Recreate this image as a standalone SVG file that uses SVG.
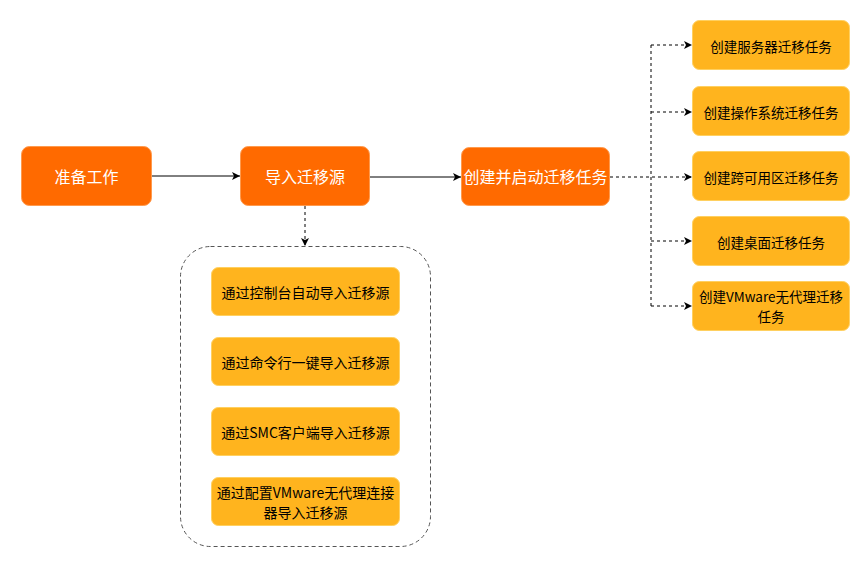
<svg xmlns="http://www.w3.org/2000/svg" width="864" height="578" viewBox="0 0 864 578">
<style>
.main{fill:#FF6A00;stroke:#FF9A4D;stroke-width:1}
.sub{fill:#FFB41E;stroke:#FFD060;stroke-width:1}
.tw{font-family:"Noto Sans CJK SC","Liberation Sans",sans-serif;font-size:16px;fill:#FFFFFF;text-anchor:middle;dominant-baseline:central}
.tb{font-family:"Noto Sans CJK SC","Liberation Sans",sans-serif;font-size:14px;fill:#000000;text-anchor:middle;dominant-baseline:central}
.tr{font-family:"Noto Sans CJK SC","Liberation Sans",sans-serif;font-size:13.5px;fill:#000000;text-anchor:middle;dominant-baseline:central}
.solid{fill:none;stroke:#000;stroke-width:1}
.dash{fill:none;stroke:#000;stroke-width:1;stroke-dasharray:3 3}
</style>
<defs>
<marker id="arr" viewBox="0 0 10 10" refX="10" refY="5" markerWidth="8" markerHeight="8" markerUnits="userSpaceOnUse" orient="auto">
<path d="M0,0 L10,5 L0,10 L2.5,5 Z" fill="#000"/>
</marker>
</defs>
<rect width="864" height="578" fill="#FFFFFF"/>
<g id="connectors">
<path class="solid" d="M152,176 L240,176" marker-end="url(#arr)"/>
<path class="solid" d="M370,177 L461,177" marker-end="url(#arr)"/>
<path class="dash" d="M305,206 L305,246" marker-end="url(#arr)"/>
<path class="dash" d="M610,177 L692,177" marker-end="url(#arr)"/>
<path class="dash" d="M651,45 L651,306"/>
<path class="dash" d="M651,45 L692,45" marker-end="url(#arr)"/>
<path class="dash" d="M651,112 L692,112" marker-end="url(#arr)"/>
<path class="dash" d="M651,241 L692,241" marker-end="url(#arr)"/>
<path class="dash" d="M651,306 L692,306" marker-end="url(#arr)"/>
</g>
<g id="container">
<rect x="180.5" y="246.5" width="250" height="300" rx="30" ry="30" fill="none" stroke="#555" stroke-width="1" stroke-dasharray="4 3"/>
</g>
<g id="n1"><rect class="main" x="21.5" y="146.5" width="130" height="59" rx="8"/><text class="tw" x="86.5" y="176">准备工作</text></g>
<g id="n2"><rect class="main" x="240.5" y="146.5" width="129" height="59" rx="8"/><text class="tw" x="305" y="176">导入迁移源</text></g>
<g id="n3"><rect class="main" x="461.5" y="147.5" width="148" height="58" rx="8"/><text class="tw" x="535.5" y="176">创建并启动迁移任务</text></g>
<g id="s1"><rect class="sub" x="211.5" y="267.5" width="188" height="48" rx="7"/><text class="tb" x="305.5" y="292">通过控制台自动导入迁移源</text></g>
<g id="s2"><rect class="sub" x="211.5" y="337.5" width="188" height="48" rx="7"/><text class="tb" x="305.5" y="362">通过命令行一键导入迁移源</text></g>
<g id="s3"><rect class="sub" x="211.5" y="407.5" width="188" height="48" rx="7"/><text class="tb" x="305.5" y="432">通过SMC客户端导入迁移源</text></g>
<g id="s4"><rect class="sub" x="211.5" y="477.5" width="188" height="48" rx="7"/><text class="tb" x="305.5" y="492">通过配置VMware无代理连接</text><text class="tb" x="305.5" y="512">器导入迁移源</text></g>
<g id="r1"><rect class="sub" x="692.5" y="20.5" width="157" height="49" rx="7"/><text class="tr" x="771" y="46">创建服务器迁移任务</text></g>
<g id="r2"><rect class="sub" x="692.5" y="86.5" width="157" height="49" rx="7"/><text class="tr" x="771" y="112">创建操作系统迁移任务</text></g>
<g id="r3"><rect class="sub" x="692.5" y="151.5" width="157" height="49" rx="7"/><text class="tr" x="771" y="177">创建跨可用区迁移任务</text></g>
<g id="r4"><rect class="sub" x="692.5" y="216.5" width="157" height="49" rx="7"/><text class="tr" x="771" y="242">创建桌面迁移任务</text></g>
<g id="r5"><rect class="sub" x="692.5" y="281.5" width="157" height="49" rx="7"/><text class="tr" x="771" y="296">创建VMware无代理迁移</text><text class="tr" x="771" y="316">任务</text></g>
</svg>
